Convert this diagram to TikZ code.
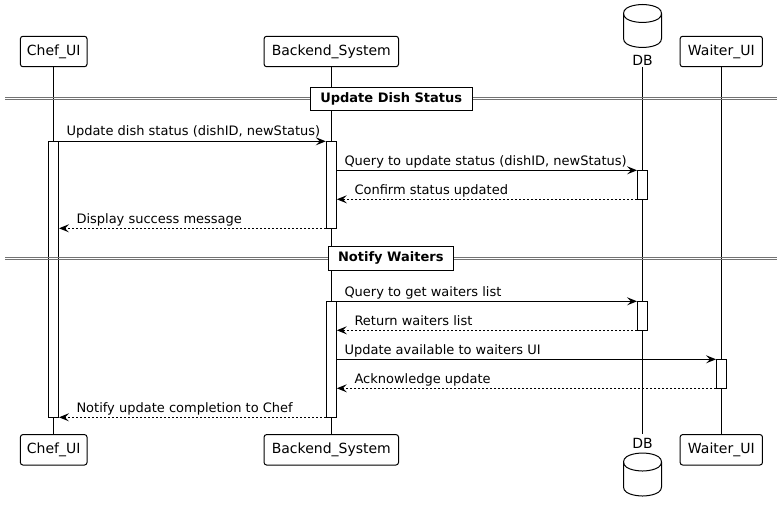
\documentclass[tikz,border=0pt]{standalone}
\usepackage{fontspec}
\setmainfont{DejaVu Sans}
\usetikzlibrary{arrows.meta}
\begin{document}
\begin{tikzpicture}[x=1pt,y=-1pt,
  part/.style={draw, rounded corners=2.5pt, line width=1pt, minimum height=30.4pt, inner sep=0pt, font=\fontsize{14}{16}\selectfont, fill=white},
  dblbl/.style={inner sep=0pt, font=\fontsize{14}{16}\selectfont},
  life/.style={line width=1pt},
  act/.style={draw, fill=white, line width=1pt, minimum width=10pt, inner sep=0pt},
  msg/.style={line width=1pt, -{Stealth[length=10pt,width=8pt,inset=4pt]}},
  ret/.style={msg, dash pattern=on 2pt off 2pt},
  lbl/.style={anchor=base west, inner sep=0pt, font=\fontsize{13}{15}\selectfont},
  divline/.style={draw=black!55, line width=0.8pt},
  divbox/.style={draw, fill=white, line width=1pt, inner sep=0pt, font=\bfseries\fontsize{13}{15}\selectfont},
  dbshape/.style={draw, fill=white, line width=1pt}
]
\useasboundingbox (0,0) rectangle (783,513);

% participants
\node[part, minimum width=66.6pt] (cT) at (53.7,51.5) {Chef\_UI};
\node[part, minimum width=134.4pt] (bT) at (331.3,51.5) {Backend\_System};
\node[part, minimum width=82.3pt] (wT) at (721.3,51.5) {Waiter\_UI};
\node[part, minimum width=66.6pt] (cB) at (53.7,449.8) {Chef\_UI};
\node[part, minimum width=134.4pt] (bB) at (331.3,449.8) {Backend\_System};
\node[part, minimum width=82.3pt] (wB) at (721.3,449.8) {Waiter\_UI};

% DB cylinders
\draw[dbshape] (623.5,13.5) .. controls (623.5,4.5) and (642.5,4.5) .. (642.5,4.5)
  .. controls (642.5,4.5) and (661.5,4.5) .. (661.5,13.5) -- (661.5,38.5)
  .. controls (661.5,47.5) and (642.5,47.5) .. (642.5,47.5)
  .. controls (642.5,47.5) and (623.5,47.5) .. (623.5,38.5) -- cycle;
\draw[line width=1pt] (623.5,13.5) .. controls (623.5,22.5) and (642.5,22.5) .. (642.5,22.5)
  .. controls (642.5,22.5) and (661.5,22.5) .. (661.5,13.5);
\draw[dbshape] (623.5,462) .. controls (623.5,453) and (642.5,453) .. (642.5,453)
  .. controls (642.5,453) and (661.5,453) .. (661.5,462) -- (661.5,487)
  .. controls (661.5,496) and (642.5,496) .. (642.5,496)
  .. controls (642.5,496) and (623.5,496) .. (623.5,487) -- cycle;
\draw[line width=1pt] (623.5,462) .. controls (623.5,471) and (642.5,471) .. (642.5,471)
  .. controls (642.5,471) and (661.5,471) .. (661.5,462);
\node[dblbl] (dT) at (642.5,60.5) {DB};
\node[dblbl] (dB) at (642.5,443.5) {DB};

% lifelines
\coordinate (dTl) at (642.5,66.7);
\coordinate (dBl) at (642.5,434.3);
\draw[life] (cT.south) -- (cB.north);
\draw[life] (bT.south) -- (bB.north);
\draw[life] (dTl) -- (dBl);
\draw[life] (wT.south) -- (wB.north);

% activations
\node[act, minimum height=276pt] (aC) at (53.5,279.3) {};
\node[act, minimum height=87pt] (aB1) at (331.3,184.8) {};
\node[act, minimum height=29pt] (aD1) at (642.5,184.8) {};
\node[act, minimum height=116pt] (aB2) at (331.3,359.3) {};
\node[act, minimum height=29pt] (aD2) at (642.5,315.8) {};
\node[act, minimum height=29pt] (aW) at (721.5,373.8) {};

% dividers
\draw[divline] (5,97.6) -- (776.7,97.6);
\draw[divline] (5,99.9) -- (776.7,99.9);
\node[divbox, minimum width=162.3pt, minimum height=22.7pt] (d1) at (391.2,98.7) {Update Dish Status};
\draw[divline] (5,256.9) -- (776.7,256.9);
\draw[divline] (5,259.2) -- (776.7,259.2);
\node[divbox, minimum width=125pt, minimum height=24.3pt] (d2) at (390.8,258.2) {Notify Waiters};

% messages
\draw[msg] (aC.east |- 0,141.3) -- (aB1.west |- 0,141.3);
\node[lbl] (t1) at (66.3,136) {Update dish status (dishID, newStatus)};
\draw[msg] (aB1.east |- 0,170.3) -- (aD1.west |- 0,170.3);
\node[lbl] (t2) at (344.3,165) {Query to update status (dishID, newStatus)};
\draw[ret] (aD1.west |- 0,199.3) -- (aB1.east |- 0,199.3);
\node[lbl] (t3) at (354.3,194) {Confirm status updated};
\draw[ret] (aB1.west |- 0,228.3) -- (aC.east |- 0,228.3);
\node[lbl] (t4) at (76.3,223) {Display success message};

\draw[msg] (aB2.east |- 0,301.3) -- (aD2.west |- 0,301.3);
\node[lbl] (t5) at (344.3,296) {Query to get waiters list};
\draw[ret] (aD2.west |- 0,330.3) -- (aB2.east |- 0,330.3);
\node[lbl] (t6) at (354.3,325) {Return waiters list};
\draw[msg] (aB2.east |- 0,359.3) -- (aW.west |- 0,359.3);
\node[lbl] (t7) at (344.3,354) {Update available to waiters UI};
\draw[ret] (aW.west |- 0,388.3) -- (aB2.east |- 0,388.3);
\node[lbl] (t8) at (354.3,383) {Acknowledge update};
\draw[ret] (aB2.west |- 0,417.3) -- (aC.east |- 0,417.3);
\node[lbl] (t9) at (76.3,412) {Notify update completion to Chef};
\end{tikzpicture}
\end{document}
